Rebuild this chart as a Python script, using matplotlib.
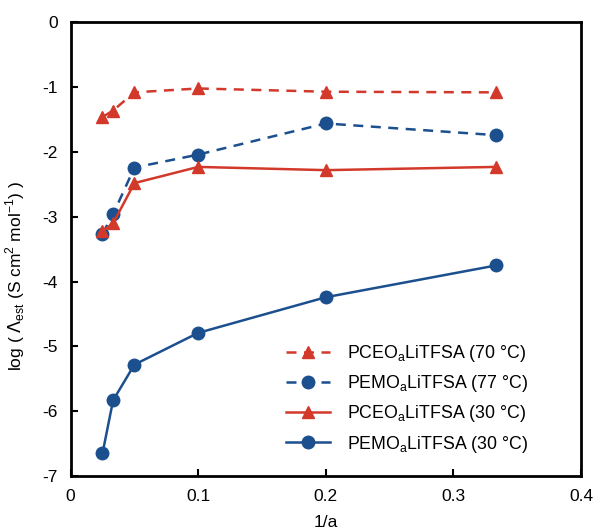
import numpy as np
import matplotlib
matplotlib.use("Agg")
import matplotlib.pyplot as plt

plt.rcParams["font.family"] = ["Liberation Sans", "DejaVu Sans"]
plt.rcParams["axes.unicode_minus"] = False

inv_a = [1 / 40, 1 / 30, 1 / 20, 1 / 10, 1 / 5, 1 / 3]

pceo_70 = [-1.46, -1.36, -1.08, -1.02, -1.07, -1.08]
pemo_77 = [-3.26, -2.96, -2.24, -2.04, -1.56, -1.74]
pceo_30 = [-3.22, -3.10, -2.48, -2.23, -2.28, -2.23]
pemo_30 = [-6.65, -5.83, -5.28, -4.79, -4.24, -3.75]

red = "#d2392b"
blue = "#1b4f8e"

fig = plt.figure(figsize=(5.93, 5.32), dpi=100)
ax = fig.add_axes([0.119, 0.105, 0.861, 0.853])

ax.plot(inv_a, pceo_70, "--", color=red, marker="^", ms=8, lw=1.8,
        dashes=(4, 3), label=r"PCEO$_{\mathregular{a}}$LiTFSA (70 °C)")
ax.plot(inv_a, pemo_77, "--", color=blue, marker="o", ms=9, lw=1.8,
        dashes=(4, 3), label=r"PEMO$_{\mathregular{a}}$LiTFSA (77 °C)")
ax.plot(inv_a, pceo_30, "-", color=red, marker="^", ms=8, lw=1.8,
        label=r"PCEO$_{\mathregular{a}}$LiTFSA (30 °C)")
ax.plot(inv_a, pemo_30, "-", color=blue, marker="o", ms=9, lw=1.8,
        label=r"PEMO$_{\mathregular{a}}$LiTFSA (30 °C)")

ax.set_xlim(0, 0.4)
ax.set_ylim(-7, 0)
ax.set_xticks([0, 0.1, 0.2, 0.3, 0.4])
ax.set_xticklabels(["0", "0.1", "0.2", "0.3", "0.4"])
ax.set_yticks(range(-7, 1))
ax.tick_params(direction="in", length=5, width=1.5, labelsize=12.5, pad=9)
for sp in ax.spines.values():
    sp.set_linewidth(2)

ax.set_xlabel("1/a", fontsize=12.5, labelpad=8)
ax.set_ylabel(r"log ( $\Lambda_{\mathregular{est}}$ (S cm$^{\mathregular{2}}$ mol$^{\mathregular{-1}}$) )",
              fontsize=12.5)
ax.yaxis.set_label_coords(-0.086, 0.44)

leg = ax.legend(loc="lower right", frameon=False, fontsize=12.8, handlelength=2.5,
                labelspacing=0.52, handletextpad=0.95,
                bbox_to_anchor=(0.928, 0.012))

fig.savefig("out.png", dpi=100)
